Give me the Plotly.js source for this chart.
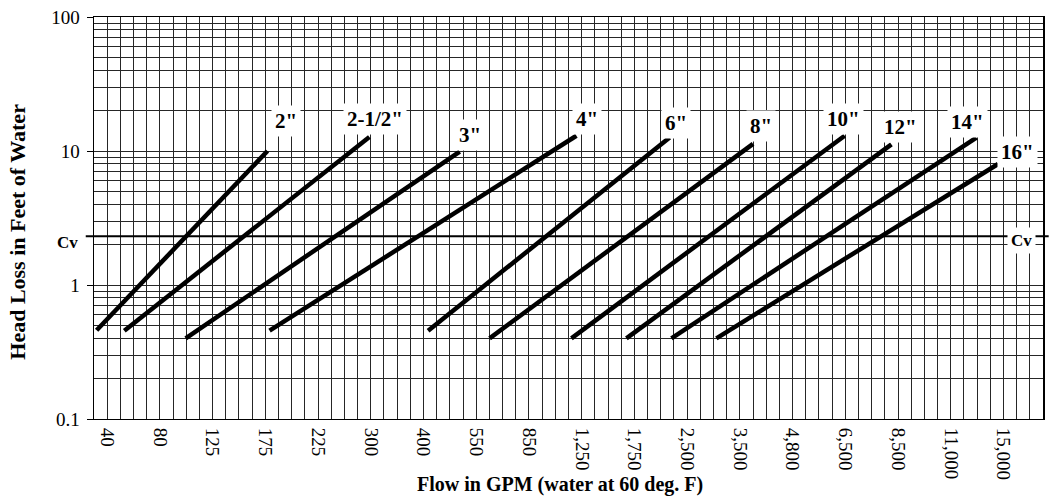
<!DOCTYPE html>
<html>
<head>
<meta charset="utf-8">
<script src="https://cdn.plot.ly/plotly-3.0.1.min.js"></script>
<style>html,body{margin:0;padding:0;background:#fff;}#chart{width:1049px;height:499px;}</style>
</head>
<body>
<div id="chart"></div>
<script>
// ---- data ----
const flowTicks = [40, 80, 125, 175, 225, 300, 400, 550, 850, 1250, 1750, 2500, 3500, 4800, 6500, 8500, 11000, 15000];
const flowTickText = ['40', '80', '125', '175', '225', '300', '400', '550', '850', '1,250', '1,750', '2,500', '3,500', '4,800', '6,500', '8,500', '11,000', '15,000'];
const headTicks = [0.1, 1, 10, 100];
const headTickText = ['0.1', '1', '10', '100'];
const valveSizes = ['2"', '2-1/2"', '3"', '4"', '6"', '8"', '10"', '12"', '14"', '16"'];
const flowStart = [32, 53, 102, 179, 413, 626, 1172, 1674, 2277, 3055];
const flowEnd = [177, 298, 503, 1210, 2252, 3825, 6480, 8250, 12950, 14590];
const headStart = [0.46, 0.456, 0.40, 0.456, 0.456, 0.40, 0.40, 0.40, 0.40, 0.40];
const headEnd = [10.0, 12.7, 9.9, 13.0, 12.6, 11.3, 13.0, 11.2, 12.6, 8.0];
const cvHead = 2.31;

// ---- x scale: chart's flow scale (labels evenly spaced, 4 grid cells apart) ----
const cellsPerLabel = 4, firstLabelCell = 1, totalCells = 72;
const tickPos = flowTicks.map((_, i) => firstLabelCell + cellsPerLabel * i);
function flowToPos(f) {
  let i = 0;
  if (f <= flowTicks[0]) i = 0;
  else if (f >= flowTicks[flowTicks.length - 1]) i = flowTicks.length - 2;
  else { while (f > flowTicks[i + 1]) i++; }
  const t = (f - flowTicks[i]) / (flowTicks[i + 1] - flowTicks[i]);
  return tickPos[i] + t * (tickPos[i + 1] - tickPos[i]);
}

// label placement (pixel offsets from each line's upper end)
const labelShift = [[19, -30], [6, -18], [10, -17], [11, -17], [6, -15], [8, -18], [-1, -17], [9, -17], [-9, -16], [19, -12]];

const GRID = '#262626';
const FONT = 'Liberation Serif, Times New Roman, serif';

const traces = valveSizes.map((name, i) => ({
  type: 'scatter', mode: 'lines', name: name,
  x: [flowToPos(flowStart[i]), flowToPos(flowEnd[i])],
  y: [headStart[i], headEnd[i]],
  line: {color: '#000', width: 4.5},
  hoverinfo: 'skip', showlegend: false
}));

const annotations = valveSizes.map((name, i) => ({
  x: flowToPos(flowEnd[i]), y: Math.log10(headEnd[i]), xref: 'x', yref: 'y',
  text: '<b>' + name + '</b>', showarrow: false,
  xanchor: 'center', yanchor: 'middle',
  xshift: labelShift[i][0], yshift: -labelShift[i][1],
  bgcolor: '#fff', borderpad: 3,
  font: {family: FONT, size: 21, color: '#000'}
}));

annotations.push({
  x: -0.0143, xref: 'paper', y: Math.log10(cvHead), yref: 'y', yshift: -6,
  text: '<b>Cv</b>', showarrow: false, xanchor: 'right', yanchor: 'middle',
  font: {family: FONT, size: 17, color: '#000'}
});
annotations.push({
  x: 0.9775, xref: 'paper', y: Math.log10(cvHead), yref: 'y', yshift: -4,
  text: '<b>Cv</b>', showarrow: false, xanchor: 'center', yanchor: 'middle',
  bgcolor: '#fff', borderpad: 3,
  font: {family: FONT, size: 17, color: '#000'}
});
annotations.push({
  x: -0.0815, xref: 'paper', y: 0.465, yref: 'paper',
  text: '<b>Head Loss in Feet of Water</b>', showarrow: false, textangle: -90,
  xanchor: 'center', yanchor: 'middle',
  font: {family: FONT, size: 22, color: '#000'}
});
annotations.push({
  x: 0.4907, xref: 'paper', y: -0.163, yref: 'paper',
  text: '<b>Flow in GPM (water at 60 deg. F)</b>', showarrow: false,
  xanchor: 'center', yanchor: 'middle',
  font: {family: FONT, size: 20, color: '#000'}
});

const layout = {
  width: 1049, height: 499,
  margin: {l: 94, r: 6, t: 17, b: 80, pad: 0},
  paper_bgcolor: '#fff', plot_bgcolor: '#fff',
  font: {family: FONT, color: '#000'},
  showlegend: false,
  xaxis: {
    range: [0, totalCells], tickvals: tickPos, ticktext: flowTickText, tickangle: 90,
    ticks: '', ticklabelstandoff: 4, showgrid: true, gridcolor: GRID, gridwidth: 1,
    minor: {dtick: 1, tick0: 0, showgrid: true, gridcolor: GRID, gridwidth: 1},
    showline: true, linecolor: '#000', linewidth: 1, mirror: true, zeroline: false,
    tickfont: {family: FONT, size: 19, color: '#000'}, fixedrange: true
  },
  xaxis2: {
    overlaying: 'x', anchor: 'y', side: 'bottom', range: [0, totalCells],
    tick0: 0, dtick: 2, ticks: 'outside', ticklen: 4, tickcolor: '#000',
    showticklabels: false, showgrid: false, zeroline: false, showline: false
  },
  yaxis: {
    type: 'log', range: [-1, 2], tickvals: headTicks, ticktext: headTickText,
    ticks: 'outside', ticklen: 6, tickcolor: '#000', ticklabelstandoff: 3,
    showgrid: true, gridcolor: GRID, gridwidth: 1,
    minor: {dtick: 'D1', showgrid: true, gridcolor: GRID, gridwidth: 1},
    showline: true, linecolor: '#000', linewidth: 1.5, mirror: true, zeroline: false,
    tickfont: {family: FONT, size: 19, color: '#000'}, fixedrange: true
  },
  shapes: [{
    type: 'line', xref: 'paper', yref: 'y', x0: -0.0087, x1: 1.006, y0: cvHead, y1: cvHead,
    line: {color: '#000', width: 2}, layer: 'above'
  }],
  annotations: annotations
};

Plotly.newPlot('chart', traces, layout, {staticPlot: true, displayModeBar: false});
</script>
</body>
</html>
